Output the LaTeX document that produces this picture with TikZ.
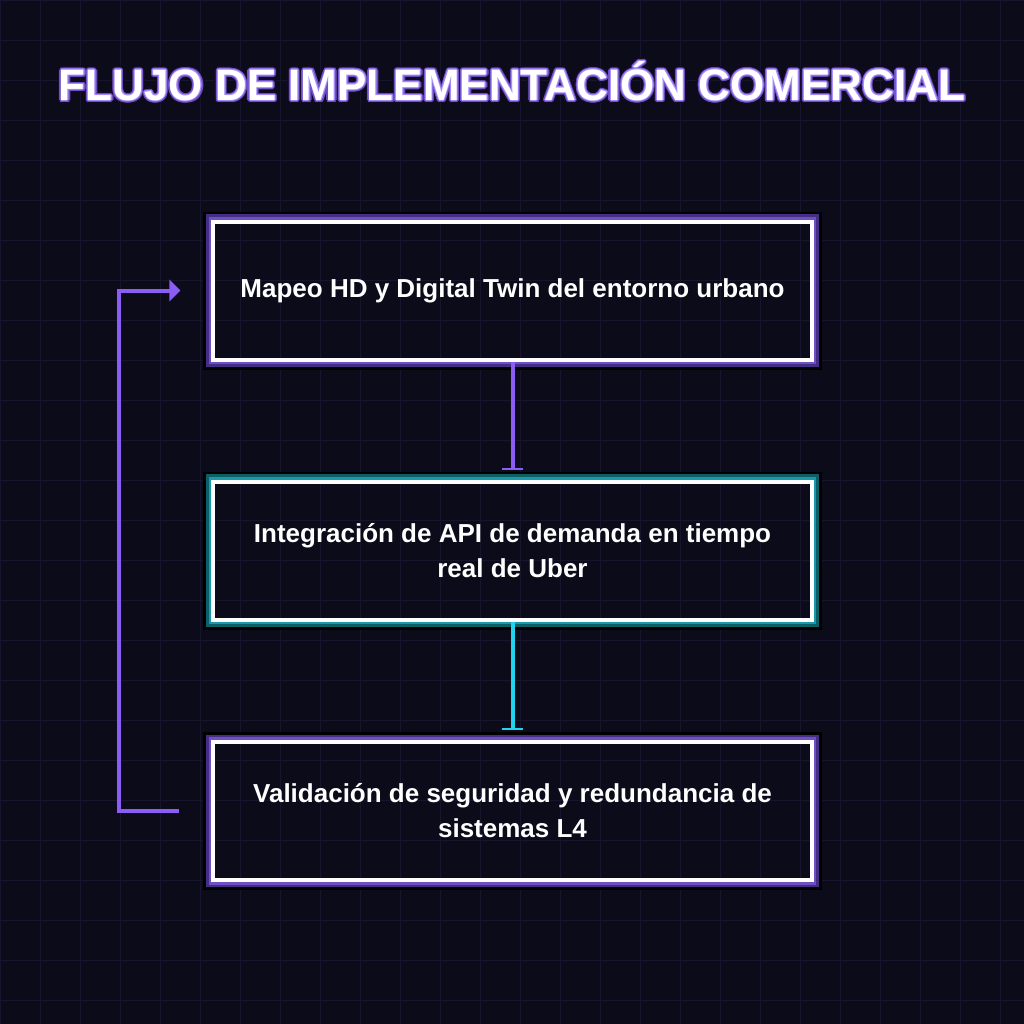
\documentclass[tikz,border=0pt]{standalone}
\usepackage{fontspec}
\setmainfont{Liberation Sans}
\usetikzlibrary{arrows.meta,positioning}
\definecolor{fondo}{HTML}{0B0B19}
\definecolor{rejilla}{HTML}{16152C}
\definecolor{violeta}{HTML}{8B5CF6}
\definecolor{violetaClaro}{HTML}{6E4FC4}
\definecolor{violetaOscuro}{HTML}{432D85}
\definecolor{turquesa}{HTML}{22D3EE}
\definecolor{turquesaClaro}{HTML}{1A9AA8}
\definecolor{turquesaOscuro}{HTML}{0D5E66}
\definecolor{lavanda}{HTML}{A78BFA}
\definecolor{sombra}{HTML}{120B26}

\begin{document}
\begin{tikzpicture}[x=1bp, y=-1bp,
    etapa/.style={draw=white, line width=4bp, minimum width=598bp, minimum height=138bp,
        inner sep=0pt, align=center, text=white, font=\fontsize{26bp}{35bp}\selectfont\bfseries},
    titulo/.style={inner sep=0pt, font=\fontsize{44bp}{50bp}\selectfont\bfseries},
    enlace/.style={line width=4bp, -{Bar[width=21bp,line width=2bp]}, shorten >=10bp},
    retorno/.style={violeta, line width=4bp, -{Triangle[length=11bp,width=21bp]}}]

        %
        \useasboundingbox[fill=fondo] (0,0) rectangle (1024,1024);
        \foreach \g in {0,40,...,1000} {
            \draw[rejilla, line width=1bp] (\g,0) -- (\g,1024);
            \draw[rejilla, line width=1bp] (0,\g) -- (1024,\g);
        }

        %
        \def\textoTitulo{FLUJO DE IMPLEMENTACIÓN COMERCIAL}
        \foreach \a in {0,30,...,330}
            \node[titulo, text=sombra] (titulo-s\a) at ([shift={(\a:3.5bp)}]512,81) {\textoTitulo};
        \foreach \a in {0,30,...,330}
            \node[titulo, text=violetaClaro] (titulo-v\a) at ([shift={(\a:2.2bp)}]512,81) {\textoTitulo};
        \foreach \a in {0,45,...,315}
            \node[titulo, text=lavanda] (titulo-l\a) at ([shift={(\a:0.9bp)}]512,81) {\textoTitulo};
        \node[titulo, text=white] (titulo) at (512,81) {\textoTitulo};

        %
        \node[etapa] (mapeo) at (512.5,290.5) {Mapeo HD y Digital Twin del entorno urbano};
        \node[etapa] (api) at (512.5,550.5) {Integración de API de demanda en tiempo\\real de Uber};
        \node[etapa] (valid) at (512.5,811) {Validación de seguridad y redundancia de\\sistemas L4};

        %
        \foreach \n/\c in {mapeo/violeta, api/turquesa, valid/violeta} {
            \draw[\c Claro, line width=2.7bp] ([shift={(-1.35bp,-1.35bp)}]\n.south west) rectangle ([shift={(1.35bp,1.35bp)}]\n.north east);
            \draw[\c Oscuro, line width=2.6bp] ([shift={(-4bp,-4bp)}]\n.south west) rectangle ([shift={(4bp,4bp)}]\n.north east);
            \draw[black, line width=2.7bp] ([shift={(-6.65bp,-6.65bp)}]\n.south west) rectangle ([shift={(6.65bp,6.65bp)}]\n.north east);
        }

        %
        \draw[enlace, violeta] (mapeo.south) -- (api.north);
        \draw[enlace, turquesa] (api.south) -- (valid.north);

        %
        \coordinate (retorno-ini) at ([xshift=-32bp]valid.west);
        \coordinate (retorno-fin) at ([xshift=-31bp]mapeo.west);
        \draw[retorno] (retorno-ini) -- ++(-60,0) |- (retorno-fin);

    \end{tikzpicture}
\end{document}
